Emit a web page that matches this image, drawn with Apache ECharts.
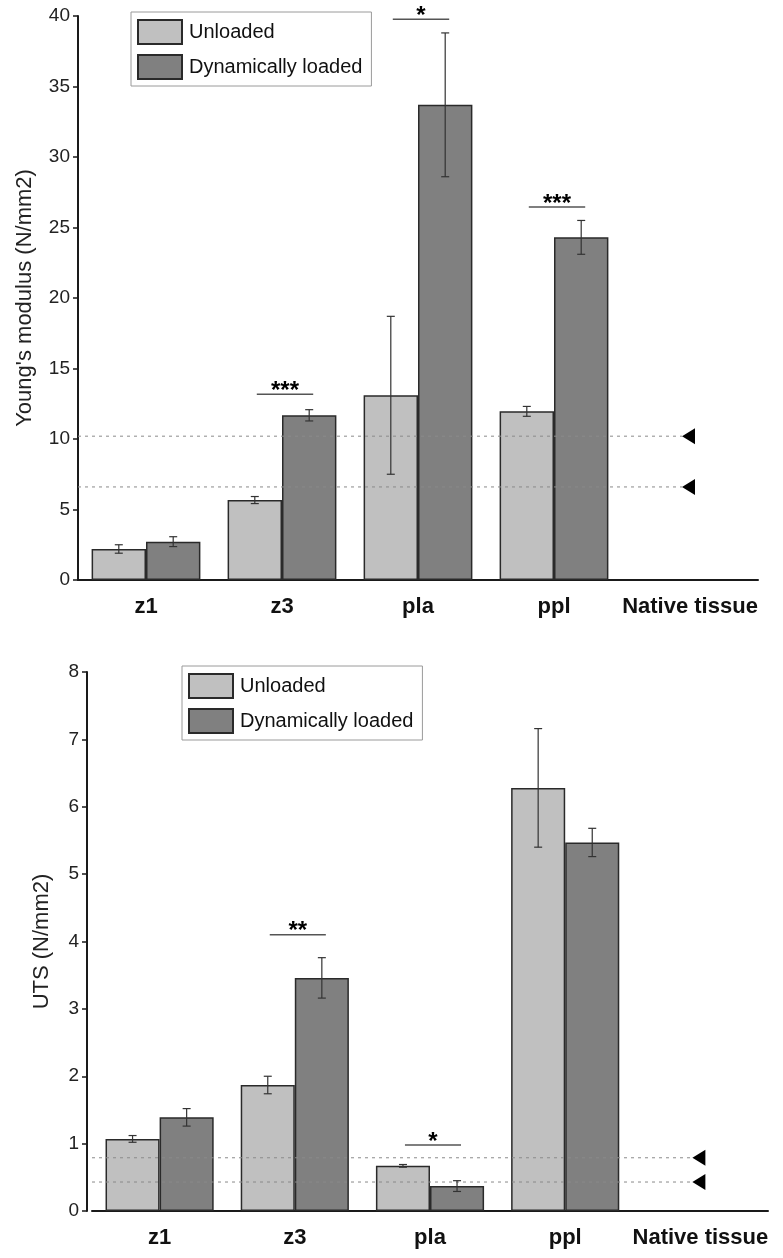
<!DOCTYPE html>
<html>
<head>
<meta charset="utf-8">
<script src="https://cdn.jsdelivr.net/npm/echarts@6/dist/echarts.min.js"></script>
<style>
  html, body { margin: 0; padding: 0; background: #fff; }
  #chart { width: 783px; height: 1258px; }
</style>
</head>
<body>
<div id="chart"></div>
<script>
// categories + values
const categories = ["z1", "z3", "pla", "ppl", "Native tissue"];

const youngUnloaded = [2.2, 5.67, 13.1, 11.96, null];
const youngUnloadedErr = [0.3, 0.25, 5.6, 0.35, null];
const youngLoaded = [2.72, 11.68, 33.7, 24.3, null];
const youngLoadedErr = [0.35, 0.4, 5.1, 1.2, null];
const youngNative = [10.2, 6.6];
const youngSigCats = ["z3", "pla", "ppl"];
const youngSigHeights = [13.17, 39.77, 26.45];
const youngSigLabels = ["***", "*", "***"];

const utsUnloaded = [1.07, 1.87, 0.67, 6.28, null];
const utsUnloadedErr = [0.05, 0.13, 0.02, 0.88, null];
const utsLoaded = [1.39, 3.46, 0.37, 5.47, null];
const utsLoadedErr = [0.13, 0.3, 0.08, 0.21, null];
const utsNative = [0.79, 0.43];
const utsSigCats = ["z3", "pla"];
const utsSigHeights = [4.1, 0.98];
const utsSigLabels = ["**", "*"];

const FONT = "'Liberation Sans', Arial, sans-serif";
const AXIS = "#1a1a1a";

var myChart = echarts.init(document.getElementById("chart"), null, { renderer: "canvas" });

function barSeries(name, idx, values, color) {
  return {
    name: name,
    type: "bar",
    xAxisIndex: idx,
    yAxisIndex: idx,
    data: values,
    barGap: "0%",
    barCategoryGap: "20%",
    itemStyle: { color: color, borderColor: "#2a2a2a", borderWidth: 1.5 },
    z: 2,
  };
}

// error bars, side -1 = left bar of group, +1 = right bar
function errorSeries(idx, means, errs, side) {
  const data = [];
  means.forEach(function (m, i) {
    if (m != null) data.push([i, m, errs[i]]);
  });
  return {
    type: "custom",
    xAxisIndex: idx,
    yAxisIndex: idx,
    silent: true,
    z: 4,
    encode: { x: 0, y: 1 },
    data: data,
    renderItem: function (params, api) {
      const i = api.value(0), m = api.value(1), e = api.value(2);
      const band = api.size([1, 0])[0];
      const top = api.coord([i, m + e]);
      const bot = api.coord([i, m - e]);
      const x = top[0] + side * band * 0.2;
      const st = { stroke: "#333", lineWidth: 1.2 };
      return {
        type: "group",
        children: [
          { type: "line", shape: { x1: x, y1: top[1], x2: x, y2: bot[1] }, style: st },
          { type: "line", shape: { x1: x - 4, y1: top[1], x2: x + 4, y2: top[1] }, style: st },
          { type: "line", shape: { x1: x - 4, y1: bot[1], x2: x + 4, y2: bot[1] }, style: st },
        ],
      };
    },
  };
}

// native tissue reference: dashed line from the y axis to a left pointing triangle
function nativeSeries(idx, values) {
  const ci = categories.indexOf("Native tissue");
  return {
    type: "custom",
    xAxisIndex: idx,
    yAxisIndex: idx,
    silent: true,
    z: 3,
    encode: { x: 0, y: 1 },
    data: values.map(function (v) { return [ci, v]; }),
    renderItem: function (params, api) {
      const p = api.coord([api.value(0), api.value(1)]);
      const left = params.coordSys.x;
      return {
        type: "group",
        children: [
          {
            type: "line",
            shape: { x1: left, y1: p[1], x2: p[0] - 8, y2: p[1] },
            style: { stroke: "#8a8a8a", lineWidth: 1, lineDash: [3, 4] },
          },
          {
            type: "polygon",
            shape: { points: [[p[0] - 8, p[1]], [p[0] + 5, p[1] - 8], [p[0] + 5, p[1] + 8]] },
            style: { fill: "#000" },
          },
        ],
      };
    },
  };
}

function sigSeries(idx, cats, heights, labels) {
  return {
    type: "custom",
    xAxisIndex: idx,
    yAxisIndex: idx,
    silent: true,
    z: 4,
    encode: { x: 0, y: 1 },
    data: cats.map(function (c, k) { return [categories.indexOf(c), heights[k]]; }),
    renderItem: function (params, api) {
      const p = api.coord([api.value(0), api.value(1)]);
      const band = api.size([1, 0])[0];
      const x1 = p[0] - band * 0.2 + 2, x2 = p[0] + band * 0.2 + 4;
      return {
        type: "group",
        children: [
          { type: "line", shape: { x1: x1, y1: p[1], x2: x2, y2: p[1] }, style: { stroke: "#555", lineWidth: 1.5 } },
          {
            type: "text",
            x: (x1 + x2) / 2,
            y: p[1] + 9,
            style: {
              text: labels[params.dataIndex],
              fill: "#000",
              font: "bold 24px " + FONT,
              align: "center",
              verticalAlign: "bottom",
            },
          },
        ],
      };
    },
  };
}

function legend(left, top) {
  return {
    left: left,
    top: top,
    orient: "vertical",
    data: ["Unloaded", "Dynamically loaded"],
    icon: "rect",
    itemWidth: 44,
    itemHeight: 24,
    itemGap: 9,
    padding: [7, 9, 6, 6],
    borderColor: "#9a9a9a",
    borderWidth: 1,
    selectedMode: false,
    textStyle: { fontFamily: FONT, fontSize: 20, color: "#111", padding: [0, 0, 0, 2] },
  };
}

function xAxis(idx) {
  return {
    type: "category",
    gridIndex: idx,
    data: categories,
    axisLine: { lineStyle: { color: AXIS, width: 2 } },
    axisTick: { alignWithLabel: true, interval: 0, length: 11, lineStyle: { color: AXIS, width: 1.5 } },
    axisLabel: { interval: 0, margin: 16, fontFamily: FONT, fontWeight: "bold", fontSize: 22, color: "#111" },
  };
}

function yAxis(idx, name, max, interval, gap, offset) {
  return {
    type: "value",
    gridIndex: idx,
    min: 0,
    max: max,
    interval: interval,
    offset: offset,
    name: name,
    nameLocation: "middle",
    nameGap: gap,
    nameTextStyle: { fontFamily: FONT, fontSize: 22, color: "#222" },
    axisLine: { show: true, lineStyle: { color: AXIS, width: 2 } },
    axisTick: { show: true, length: 5, lineStyle: { color: AXIS, width: 1.5 } },
    axisLabel: { margin: 8, fontFamily: FONT, fontSize: 19, color: "#222" },
    splitLine: { show: false },
  };
}

myChart.setOption({
  animation: false,
  backgroundColor: "#fff",
  grid: [
    { left: 78, right: 25, top: 16, height: 564 },
    { left: 92, right: 15, top: 672, height: 539 },
  ],
  legend: [legend(131, 12), legend(182, 666)],
  xAxis: [xAxis(0), xAxis(1)],
  yAxis: [
    yAxis(0, "Young's modulus (N/mm2)", 40, 5, 42, 0),
    yAxis(1, "UTS (N/mm2)", 8, 1, 34, 5),
  ],
  series: [
    barSeries("Unloaded", 0, youngUnloaded, "#c0c0c0"),
    barSeries("Dynamically loaded", 0, youngLoaded, "#808080"),
    errorSeries(0, youngUnloaded, youngUnloadedErr, -1),
    errorSeries(0, youngLoaded, youngLoadedErr, 1),
    nativeSeries(0, youngNative),
    sigSeries(0, youngSigCats, youngSigHeights, youngSigLabels),
    barSeries("Unloaded", 1, utsUnloaded, "#c0c0c0"),
    barSeries("Dynamically loaded", 1, utsLoaded, "#808080"),
    errorSeries(1, utsUnloaded, utsUnloadedErr, -1),
    errorSeries(1, utsLoaded, utsLoadedErr, 1),
    nativeSeries(1, utsNative),
    sigSeries(1, utsSigCats, utsSigHeights, utsSigLabels),
  ],
});
</script>
</body>
</html>
